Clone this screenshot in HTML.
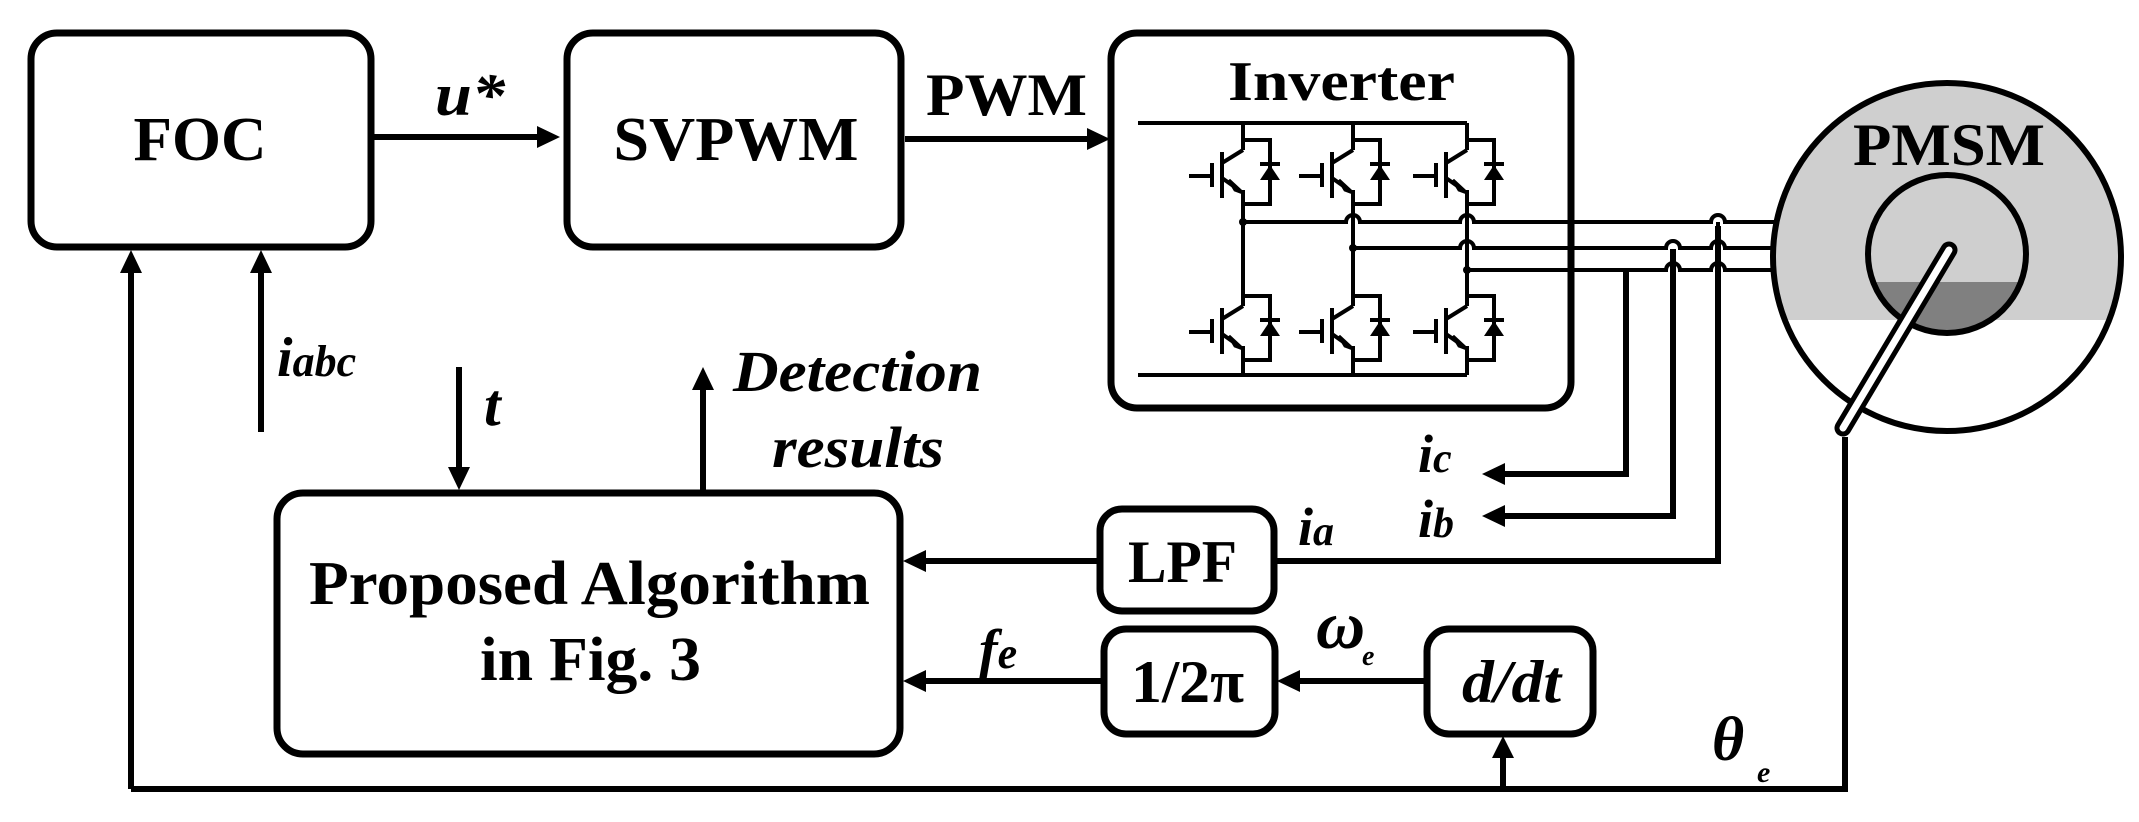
<!DOCTYPE html>
<html><head><meta charset="utf-8"><style>
html,body{margin:0;padding:0;background:#fff;}
svg{display:block;}
text{font-family:"Liberation Serif",serif;font-weight:bold;fill:#000;}
.it{font-style:italic;}
</style></head><body>
<svg width="2139" height="822" viewBox="0 0 2139 822" xmlns="http://www.w3.org/2000/svg">
<defs>
<clipPath id="cc"><circle cx="1947" cy="257" r="174"/></clipPath>
<clipPath id="ic"><circle cx="1947" cy="254" r="79"/></clipPath>
<g id="sw">
 <path d="M0,10 L-21,23 M-21,12 V58 M-21,38 L-4,50 M-31,23 V47 M-54,36 H-31 M0,0 H27 V64 H0 M0,50 V64 M17,24 H37" stroke="#000" stroke-width="4" fill="none"/>
 <polygon points="0,53 -14,40 -8,50" fill="#000" stroke="#000" stroke-width="3"/>
 <polygon points="17,40 37,40 27,25" fill="#000"/>
</g>
</defs>

<g fill="none" stroke="#000" stroke-width="7">
 <rect x="31" y="33" width="340" height="214" rx="26"/>
 <rect x="567" y="33" width="334" height="214" rx="26"/>
 <rect x="1111" y="33" width="460" height="375" rx="26"/>
 <rect x="277" y="493" width="623" height="261" rx="26"/>
 <rect x="1100" y="509" width="174" height="102" rx="22"/>
 <rect x="1104" y="629" width="171" height="105" rx="22"/>
 <rect x="1427" y="629" width="166" height="105" rx="22"/>
</g>

<g stroke="#000" stroke-width="6" fill="none">
 <path d="M374,137 H540"/>
 <path d="M905,139 H1090"/>
 <path d="M261,432 V270"/>
 <path d="M131,789 V270"/>
 <path d="M131,789 H1845 V437"/>
 <path d="M1503,789 V755"/>
 <path d="M459,367 V470"/>
 <path d="M703,490 V388"/>
 <path d="M1097,561 H922"/>
 <path d="M1101,681 H922"/>
 <path d="M1424,681 H1296"/>
 <path d="M1275,561 H1718 V226"/>
 <path d="M1673,249 V516 H1502"/>
 <path d="M1626,270 V474 H1502"/>
</g>
<g fill="#000">
 <polygon points="560,137 537,126 537,148"/>
 <polygon points="1110,139 1087,128 1087,150"/>
 <polygon points="261,250 250,273 272,273"/>
 <polygon points="131,250 120,273 142,273"/>
 <polygon points="1503,736 1492,758 1514,758"/>
 <polygon points="459,490 448,467 470,467"/>
 <polygon points="703,367 692,390 714,390"/>
 <polygon points="903,561 926,550 926,572"/>
 <polygon points="903,681 926,670 926,692"/>
 <polygon points="1277,681 1300,670 1300,692"/>
 <polygon points="1482,474 1505,463 1505,485"/>
 <polygon points="1482,516 1505,505 1505,527"/>
</g>

<!-- inverter internals -->
<g stroke="#000" stroke-width="4" fill="none">
 <path d="M1138,123 H1467 M1138,375 H1467"/>
 <path d="M1243,123 V150 M1243,190 V306 M1243,346 V375"/>
 <path d="M1353,123 V150 M1353,190 V306 M1353,346 V375"/>
 <path d="M1467,123 V150 M1467,190 V306 M1467,346 V375"/>
 <path d="M1243,222 H1346 a7,7 0 0 1 14,0 H1460 a7,7 0 0 1 14,0 H1711 a7,7 0 0 1 14,0 H1778"/>
 <path d="M1353,248 H1460 a7,7 0 0 1 14,0 H1666 a7,7 0 0 1 14,0 H1711 a7,7 0 0 1 14,0 H1778"/>
 <path d="M1467,270 H1666 a7,7 0 0 1 14,0 H1711 a7,7 0 0 1 14,0 H1778"/>
 <path d="M1718,222 V226"/>
</g>
<g fill="#000">
 <circle cx="1243" cy="222" r="4"/><circle cx="1353" cy="248" r="4"/><circle cx="1467" cy="270" r="4"/>
</g>
<use href="#sw" x="1243" y="140"/><use href="#sw" x="1353" y="140"/><use href="#sw" x="1467" y="140"/>
<use href="#sw" x="1243" y="296"/><use href="#sw" x="1353" y="296"/><use href="#sw" x="1467" y="296"/>

<!-- PMSM -->
<rect x="1770" y="80" width="360" height="240" fill="#cfcfcf" clip-path="url(#cc)"/>
<rect x="1860" y="282" width="180" height="60" fill="#808080" clip-path="url(#ic)"/>
<circle cx="1947" cy="254" r="79" fill="none" stroke="#000" stroke-width="6"/>
<circle cx="1947" cy="257" r="174" fill="none" stroke="#000" stroke-width="6"/>
<line x1="1949" y1="250" x2="1843" y2="428" stroke="#000" stroke-width="17" stroke-linecap="round"/>
<line x1="1949" y1="250" x2="1843" y2="428" stroke="#fff" stroke-width="7" stroke-linecap="round"/>

<text x="200" y="160" font-size="62" text-anchor="middle" textLength="133" lengthAdjust="spacingAndGlyphs">FOC</text>
<text x="736" y="160" font-size="62" text-anchor="middle" textLength="245" lengthAdjust="spacingAndGlyphs">SVPWM</text>
<text x="926" y="115" font-size="60" textLength="161" lengthAdjust="spacingAndGlyphs">PWM</text>
<text x="435" y="115" font-size="60" class="it" textLength="70" lengthAdjust="spacingAndGlyphs">u*</text>
<text x="1228" y="100" font-size="56" textLength="227" lengthAdjust="spacingAndGlyphs">Inverter</text>
<text x="1853" y="165" font-size="60" fill="#2a2a2a" textLength="192" lengthAdjust="spacingAndGlyphs">PMSM</text>
<text x="309" y="604" font-size="62" textLength="561" lengthAdjust="spacingAndGlyphs">Proposed Algorithm</text>
<text x="480" y="680" font-size="62" textLength="221" lengthAdjust="spacingAndGlyphs">in Fig. 3</text>
<text x="1128" y="582" font-size="60" textLength="109" lengthAdjust="spacingAndGlyphs">LPF</text>
<text x="1131" y="702" font-size="60" textLength="113" lengthAdjust="spacingAndGlyphs">1/2π</text>
<text x="1462" y="702" font-size="60" class="it" textLength="99" lengthAdjust="spacingAndGlyphs">d/dt</text>
<text x="277" y="376" font-size="56" class="it">i<tspan font-size="44">abc</tspan></text>
<text x="484" y="425" font-size="60" class="it">t</text>
<text x="733" y="391" font-size="58" class="it" textLength="249" lengthAdjust="spacingAndGlyphs">Detection</text>
<text x="772" y="467" font-size="58" class="it" textLength="172" lengthAdjust="spacingAndGlyphs">results</text>
<text x="979" y="668" font-size="56" class="it">f<tspan font-size="44">e</tspan></text>
<text x="1298" y="545" font-size="54" class="it">i<tspan font-size="42">a</tspan></text>
<text x="1418" y="472" font-size="54" class="it">i<tspan font-size="42">c</tspan></text>
<text x="1418" y="537" font-size="54" class="it">i<tspan font-size="42">b</tspan></text>
<text x="1316" y="648" font-size="68" class="it">ω</text>
<text x="1362" y="665" font-size="28" class="it">e</text>
<text x="1712" y="760" font-size="62" class="it">θ</text>
<text x="1757" y="782" font-size="30" class="it">e</text>
</svg>
</body></html>
